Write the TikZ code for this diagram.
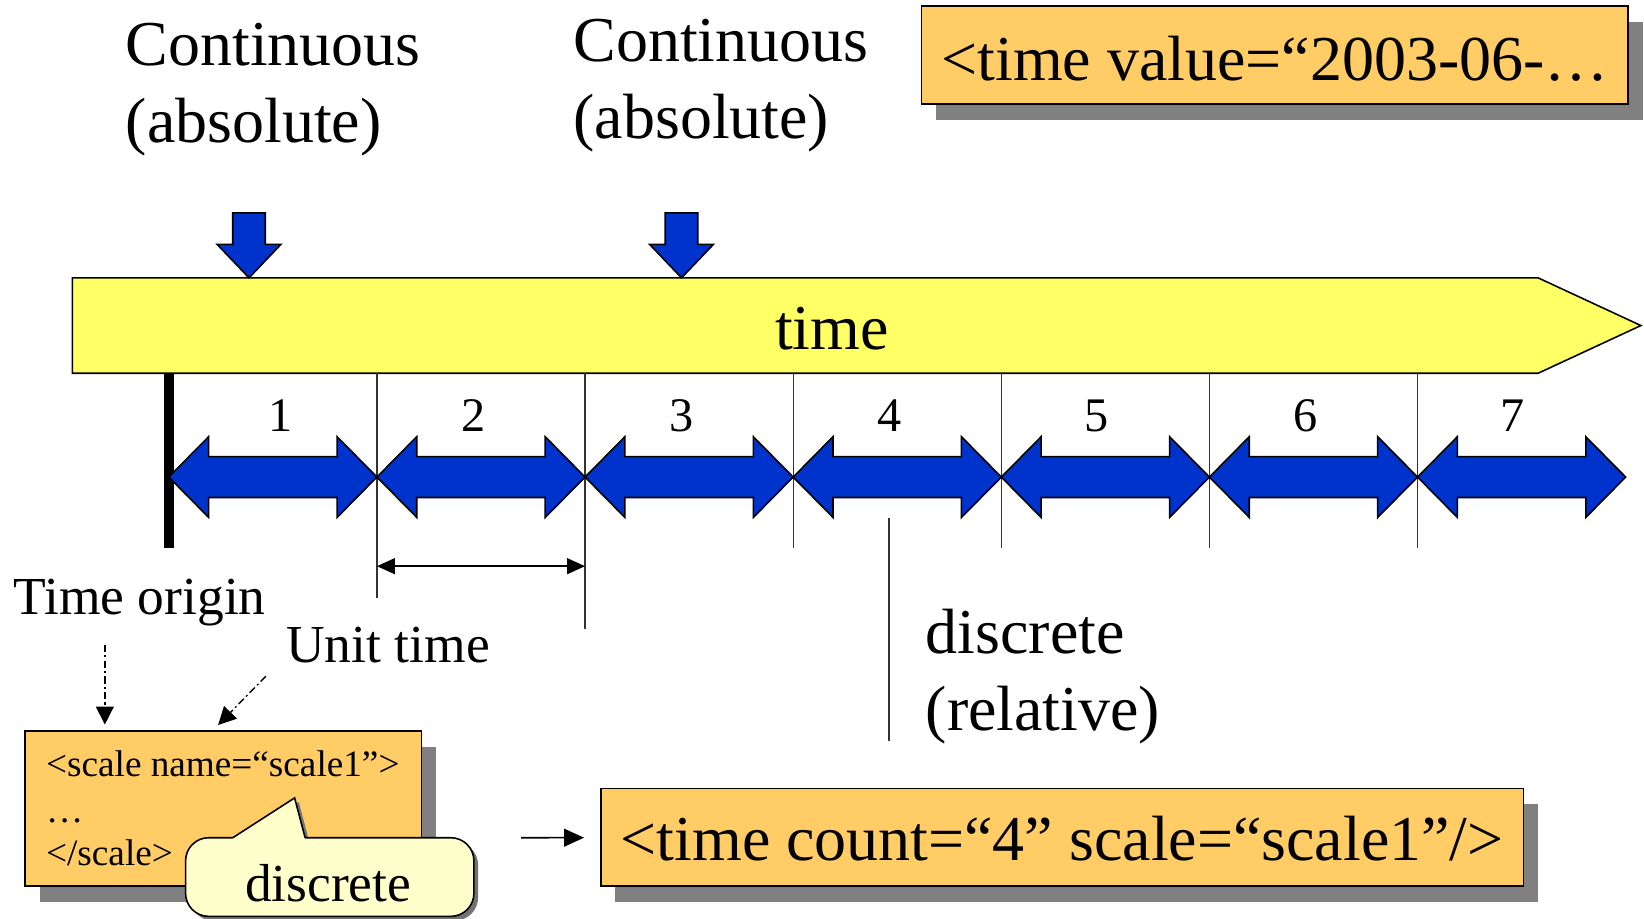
\documentclass[tikz,border=0pt]{standalone}
\usepackage{fontspec}
\setmainfont{Liberation Serif}
\usetikzlibrary{arrows.meta,shadows}

\definecolor{barfill}{HTML}{FFFF66}
\definecolor{tagfill}{HTML}{FFCC66}
\definecolor{unitblue}{HTML}{0033CC}
\definecolor{notefill}{HTML}{FFFFCC}
\definecolor{shadowgray}{HTML}{808080}

\begin{document}
\begin{tikzpicture}[x=1pt,y=-1pt,
  every node/.style={inner sep=0pt, outer sep=0pt},
  fbig/.style={font=\fontsize{61}{73}\selectfont},
  fmid/.style={font=\fontsize{51}{61}\selectfont},
  fnum/.style={font=\fontsize{46}{55}\selectfont},
  fsmall/.style={font=\fontsize{35.5}{42}\selectfont},
  shapeline/.style={draw=black, line width=1.5pt, line join=miter},
  tagbox/.style={draw=black, line width=1.6pt, fill=tagfill,
    drop shadow={shadow xshift=14pt, shadow yshift=-15pt, fill=shadowgray, opacity=1}},
  notebox/.style={draw=black, line width=1.5pt, fill=notefill, rounded corners=22pt,
    drop shadow={shadow xshift=4pt, shadow yshift=-4pt, fill=black!55, opacity=1}},
  divline/.style={draw=black!80, line width=1.2pt},
  hintarrow/.style={line width=1.3pt, dash pattern=on 7pt off 3pt on 2pt off 3pt,
    -{Triangle[length=17pt,width=17pt]}},
  solidarrow/.style={line width=1.5pt}
]
\useasboundingbox (0,0) rectangle (1568,876);

% time axis
\filldraw[shapeline, fill=barfill] (69,265) -- (1467,265) -- (1565,310.5) -- (1467,356) -- (69,356) -- cycle;
\node[fbig, anchor=base] (timelabel) at (793.5,333) {time};

% absolute time markers
\foreach \x in {237.5, 650}
  \filldraw[shapeline, fill=unitblue] (\x-15.5,203) -- (\x+15.5,203) -- (\x+15.5,233)
    -- (\x+30.5,233) -- (\x,265) -- (\x-30.5,233) -- (\x-15.5,233) -- cycle;

\node[fbig, anchor=base west] (absA1) at (120,62) {Continuous};
\node[fbig, anchor=base west] (absA2) at (120,136) {(absolute)};
\node[fbig, anchor=base west] (absB1) at (547,59) {Continuous};
\node[fbig, anchor=base west] (absB2) at (547,132) {(absolute)};

% unit divisions
\draw[line width=9pt] (161,356) -- (161,523);
\foreach \x/\y in {359.5/570, 558/600, 756.5/523, 955/523, 1153.5/523, 1352/523}
  \draw[divline] (\x,356) -- (\x,\y);
\draw[divline] (848,494) -- (848,707);

\foreach \i in {0,...,6} {
  \pgfmathsetmacro\a{161+198.5*\i}
  \pgfmathsetmacro\b{\a+198.5}
  \filldraw[shapeline, fill=unitblue] (\a,455) -- (\a+38,416.5) -- (\a+38,435.5)
    -- (\b-38,435.5) -- (\b-38,416.5) -- (\b,455) -- (\b-38,493.5) -- (\b-38,474.5)
    -- (\a+38,474.5) -- (\a+38,493.5) -- cycle;
}
\foreach \n/\x in {1/268, 2/452, 3/650, 4/848, 5/1046, 6/1245, 7/1443}
  \node[fnum, anchor=base] (unit\n) at (\x,412) {\n};

% unit time span
\coordinate (ustart) at (359.5,540);
\coordinate (uend) at (558,540);
\draw[solidarrow, {Triangle[length=17pt,width=15pt]}-{Triangle[length=17pt,width=15pt]}] (ustart) -- (uend);

\node[fmid, anchor=base west] (origintext) at (13,586) {Time origin};
\node[fmid, anchor=base west] (unittext) at (273,632) {Unit time};
\node[fbig, anchor=base west] (rel1) at (883,623) {discrete};
\node[fbig, anchor=base west] (rel2) at (883,697) {(relative)};

% XML fragments
\node[tagbox, fbig, minimum width=674pt, minimum height=93pt, text height=49pt, text depth=0pt]
  (valuebox) at (1216,52.5) {<time value=“2003-06-…};
\node[tagbox, fbig, minimum width=880pt, minimum height=93pt, text height=45pt, text depth=0pt]
  (countbox) at (1013,798.5) {<time count=“4” scale=“scale1”/>};
\node[tagbox, minimum width=378pt, minimum height=148pt] (scalebox) at (213,771) {};
\node[fsmall, anchor=base west] (scaleopen) at (44,741) {<scale name=“scale1”>};
\node[fsmall, anchor=base west] (scaledots) at (44,784) {…};
\node[fsmall, anchor=base west] (scaleclose) at (44,825) {</scale>};

% callout
\fill[black!55] (226,803) -- (285,765) -- (295,803) -- cycle;
\node[notebox, minimum width=275pt, minimum height=75pt] (note) at (314.5,836.5) {};
\fill[notefill] (222,799) -- (281,761) -- (291,799) -- (291,801) -- (222,801) -- cycle;
\draw[shapeline] (222,799) -- (281,761) -- (291,799);
\node[fmid, anchor=base] (notetext) at (313,860) {discrete};

% connectors
\coordinate (origintail) at (100,615);
\draw[hintarrow] (origintail) -- ([xshift=76pt,yshift=6pt]scalebox.north west);
\coordinate (unittail) at (253.5,645);
\draw[hintarrow] (unittail) -- ([xshift=184pt,yshift=5.5pt]scalebox.north west);
\coordinate (linkstart) at (497,799);
\draw[solidarrow, -{Triangle[length=19pt,width=17pt]}, shorten >=16pt] (linkstart) -- (countbox);
\end{tikzpicture}
\end{document}
